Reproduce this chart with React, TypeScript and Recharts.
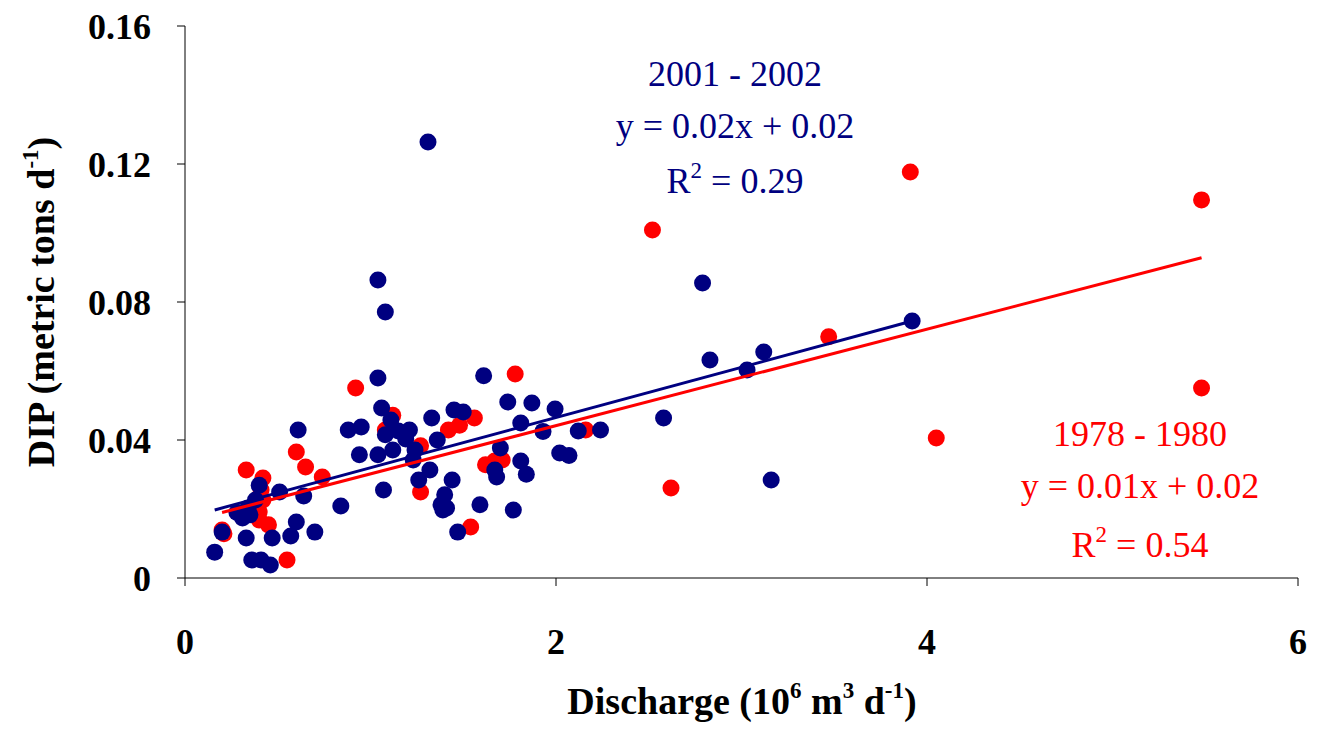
import { ScatterChart, Scatter, XAxis, YAxis } from 'recharts'

const blueX = [0.16, 0.2, 0.28, 0.31, 0.35, 0.34, 0.38, 0.4, 0.33, 0.36, 0.41, 0.46, 0.47, 0.51, 0.57, 0.6, 0.61, 0.64, 0.7, 0.84, 0.88, 0.94, 0.95, 1.04, 1.04, 1.07, 1.04, 1.08, 1.06, 1.08, 1.11, 1.12, 1.15, 1.19, 1.21, 1.23, 1.26, 1.24, 1.31, 1.32, 1.33, 1.36, 1.38, 1.4, 1.39, 1.41, 1.44, 1.45, 1.47, 1.5, 1.59, 1.61, 1.67, 1.68, 1.7, 1.74, 1.77, 1.81, 1.81, 1.84, 1.87, 1.93, 1.995, 2.02, 2.07, 2.12, 2.24, 2.58, 2.79, 2.83, 3.03, 3.12, 3.16, 3.92]
const blueY = [0.0075, 0.0133, 0.019, 0.0174, 0.0183, 0.0203, 0.0226, 0.0269, 0.0116, 0.0052, 0.0052, 0.0038, 0.0116, 0.0249, 0.0122, 0.0162, 0.0429, 0.0238, 0.0133, 0.0209, 0.0429, 0.0357, 0.0438, 0.0580, 0.0357, 0.0255, 0.0864, 0.0771, 0.0493, 0.0415, 0.0458, 0.0371, 0.0426, 0.0403, 0.0429, 0.0342, 0.0284, 0.0371, 0.1264, 0.0313, 0.0464, 0.0400, 0.0212, 0.0241, 0.0197, 0.0203, 0.0284, 0.0487, 0.0133, 0.0481, 0.0212, 0.0586, 0.0313, 0.0293, 0.0377, 0.0510, 0.0197, 0.0449, 0.0339, 0.0301, 0.0507, 0.0425, 0.0490, 0.0362, 0.0355, 0.0426, 0.0429, 0.0464, 0.0855, 0.0632, 0.0603, 0.0655, 0.0284, 0.0745]
const redX = [0.2, 0.21, 0.33, 0.42, 0.42, 0.41, 0.4, 0.35, 0.4, 0.45, 0.55, 0.6, 0.65, 0.74, 0.92, 1.08, 1.12, 1.27, 1.27, 1.42, 1.48, 1.54, 1.56, 1.62, 1.67, 1.71, 1.78, 2.16, 2.52, 2.62, 3.47, 3.91, 4.05, 5.48, 5.48]
const redY = [0.0139, 0.0128, 0.0313, 0.0290, 0.0226, 0.0255, 0.0191, 0.0197, 0.0168, 0.0154, 0.0052, 0.0365, 0.0322, 0.0293, 0.0551, 0.0429, 0.0472, 0.0249, 0.0383, 0.0429, 0.0443, 0.0148, 0.0464, 0.0328, 0.0339, 0.0342, 0.0591, 0.0429, 0.1009, 0.0261, 0.0699, 0.1177, 0.0406, 0.1096, 0.0551]

const blueFit = { slope: 0.01456, intercept: 0.0174, from: 0.16, to: 3.92 }
const redFit = { slope: 0.01398, intercept: 0.0162, from: 0.2, to: 5.48 }

const xTicks = [0, 2, 4, 6]
const yTicks = [0, 0.04, 0.08, 0.12, 0.16]

const BLUE = '#000080'
const RED = '#ff0000'
const FONT = '"Liberation Serif", "Times New Roman", serif'

const pts = (xs: number[], ys: number[]) => xs.map((x, i) => ({ x, y: ys[i] }))
const fitLine = (f: typeof blueFit) => [
  { x: f.from, y: f.slope * f.from + f.intercept },
  { x: f.to, y: f.slope * f.to + f.intercept },
]

const dot = (color: string) => (p: any) => <circle cx={p.cx} cy={p.cy} r={8.5} fill={color} />

export default function App() {
  return (
    <div style={{ margin: -8, width: 1324, height: 732, background: '#fff', position: 'relative' }}>
      <ScatterChart width={1324} height={732} margin={{ top: 26, right: 26, bottom: 54, left: 0 }}>
        <XAxis
          type="number"
          dataKey="x"
          domain={[0, 6]}
          ticks={xTicks}
          height={100}
          stroke="#000"
          tickSize={8}
          tick={{ fontSize: 36, fontWeight: 'bold', fill: '#000', fontFamily: FONT, dy: 40 }}
        />
        <YAxis
          type="number"
          dataKey="y"
          domain={[0, 0.16]}
          ticks={yTicks}
          width={185}
          stroke="#000"
          tickSize={8}
          tickFormatter={(v: number) => (v === 0 ? '0' : v.toFixed(2))}
          tick={{ fontSize: 36, fontWeight: 'bold', fill: '#000', fontFamily: FONT, dx: -24 }}
        />
        <Scatter data={pts(redX, redY)} shape={dot(RED)} isAnimationActive={false} />
        <Scatter data={pts(blueX, blueY)} shape={dot(BLUE)} isAnimationActive={false} />
        <Scatter data={fitLine(redFit)} line={{ stroke: RED, strokeWidth: 3 }} shape={() => null} isAnimationActive={false} />
        <Scatter data={fitLine(blueFit)} line={{ stroke: BLUE, strokeWidth: 3 }} shape={() => null} isAnimationActive={false} />
      </ScatterChart>
      <svg width={1324} height={732} style={{ position: 'absolute', left: 0, top: 0, pointerEvents: 'none' }}>
        <g fontFamily={FONT} fontSize={36} textAnchor="middle">
          <text x={735} y={86} fill={BLUE}>2001 - 2002</text>
          <text x={735} y={138} fill={BLUE}>y = 0.02x + 0.02</text>
          <text x={735} y={193} fill={BLUE}>R<tspan fontSize={23} dy={-15}>2</tspan><tspan dy={15}> = 0.29</tspan></text>
          <text x={1140} y={446} fill={RED}>1978 - 1980</text>
          <text x={1140} y={498} fill={RED}>y = 0.01x + 0.02</text>
          <text x={1140} y={557} fill={RED}>R<tspan fontSize={23} dy={-15}>2</tspan><tspan dy={15}> = 0.54</tspan></text>
        </g>
        <text x={742} y={714} fontFamily={FONT} fontSize={38} fontWeight="bold" textAnchor="middle">
          Discharge (10<tspan fontSize={23} dy={-16}>6</tspan><tspan dy={16}> m</tspan><tspan fontSize={23} dy={-16}>3</tspan><tspan dy={16}> d</tspan><tspan fontSize={23} dy={-16}>-1</tspan><tspan dy={16}>)</tspan>
        </text>
        <text x={0} y={0} transform="translate(54,302) rotate(-90)" fontFamily={FONT} fontSize={38} fontWeight="bold" textAnchor="middle">
          DIP (metric tons d<tspan fontSize={23} dy={-16}>-1</tspan><tspan dy={16}>)</tspan>
        </text>
      </svg>
    </div>
  )
}
